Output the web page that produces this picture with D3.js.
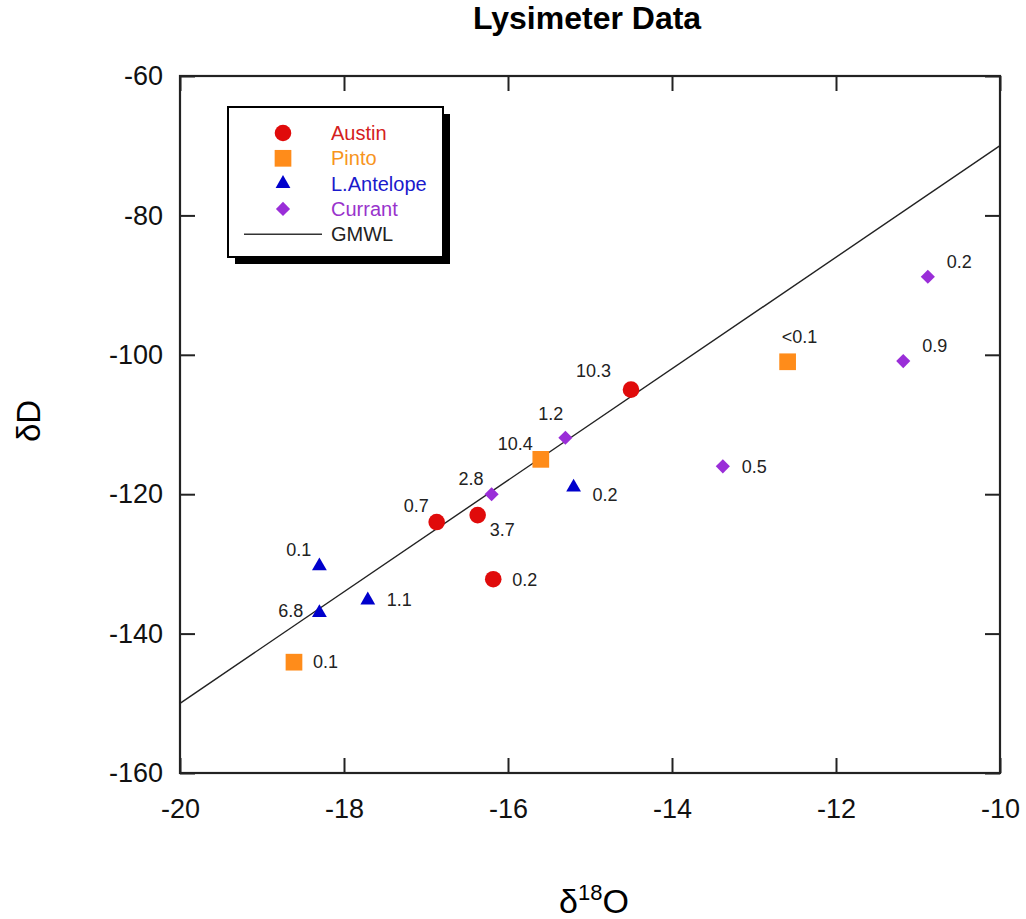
<!DOCTYPE html>
<html>
<head>
<meta charset="utf-8">
<script src="https://cdn.jsdelivr.net/npm/d3@7"></script>
<style>
  body { margin: 0; background: #fff; }
  svg { font-family: "Liberation Sans", Arial, sans-serif; }
</style>
</head>
<body>
<svg width="1026" height="919"></svg>
<script>
// Data
const austinX = [-14.5, -16.87, -16.37, -16.18];
const austinY = [-105, -124, -123, -132.2];
const austinLabels = ["10.3", "0.7", "3.7", "0.2"];
const austinPlace = ["ulf", "ul", "dr", "r"];

const pintoX = [-15.6, -12.59, -18.61];
const pintoY = [-115, -101, -144.1];
const pintoLabels = ["10.4", "<0.1", "0.1"];
const pintoPlace = ["ul", "u", "r"];

const antelopeX = [-18.3, -18.3, -17.71, -15.2];
const antelopeY = [-130.3, -137, -135.2, -119];
const antelopeLabels = ["0.1", "6.8", "1.1", "0.2"];
const antelopePlace = ["ul", "l", "r", "dr2"];

const currantX = [-16.2, -15.3, -13.38, -11.18, -10.88];
const currantY = [-120, -111.9, -116, -100.9, -88.8];
const currantLabels = ["2.8", "1.2", "0.5", "0.9", "0.2"];
const currantPlace = ["ul", "uu", "r", "ur", "ur"];

const xTicks = [-20, -18, -16, -14, -12, -10];
const yTicks = [-60, -80, -100, -120, -140, -160];

// GMWL: dD = 8 * d18O + 10
const gmwlX = [-20, -10];

const svg = d3.select("svg"),
  margin = { top: 76, left: 180 },
  width = 820,
  height = 697;

const g = svg.append("g")
  .attr("transform", `translate(${margin.left},${margin.top})`);

const x = d3.scaleLinear().domain([-20, -10]).range([0, width]);
const y = d3.scaleLinear().domain([-160, -60]).range([height, 0]);

// label placement offsets
const place = {
  r:   { a: "start", dx: 19, dy: 0 },
  ur:  { a: "start", dx: 19, dy: -15 },
  dr:  { a: "start", dx: 12, dy: 15 },
  dr2: { a: "start", dx: 19, dy: 7 },
  ul:  { a: "end", dx: -8, dy: -16 },
  ulf: { a: "end", dx: -20, dy: -19 },
  uu:  { a: "end", dx: -2, dy: -24 },
  u:   { a: "middle", dx: 12, dy: -25 },
  l:   { a: "end", dx: -16, dy: -2 }
};

const series = [
  { name: "Austin", xs: austinX, ys: austinY, labels: austinLabels, pl: austinPlace,
    color: "#e00b0b", text: "#d42020", shape: d3.symbolCircle, size: 216, rot: 0 },
  { name: "Pinto", xs: pintoX, ys: pintoY, labels: pintoLabels, pl: pintoPlace,
    color: "#ff8c1a", text: "#f7941d", shape: d3.symbolSquare, size: 279, rot: 0 },
  { name: "L.Antelope", xs: antelopeX, ys: antelopeY, labels: antelopeLabels, pl: antelopePlace,
    color: "#0000cc", text: "#1a1acc", shape: d3.symbolTriangle, size: 95, rot: 0 },
  { name: "Currant", xs: currantX, ys: currantY, labels: currantLabels, pl: currantPlace,
    color: "#9a2ed8", text: "#9933cc", shape: d3.symbolSquare, size: 100, rot: 45 }
];

// plain hyphen for negative tick labels, as in the original
const fmt = d => String(d);

// Title
svg.append("text")
  .attr("x", 587)
  .attr("y", 29)
  .attr("text-anchor", "middle")
  .style("font-size", "32px")
  .style("font-weight", "bold")
  .text("Lysimeter Data");

// Axes with inward ticks
g.append("g")
  .attr("transform", `translate(0,${height})`)
  .call(d3.axisBottom(x).tickValues(xTicks).tickFormat(fmt).tickSizeInner(-15).tickSizeOuter(0).tickPadding(26))
  .call(a => a.select(".domain").remove())
  .call(a => a.selectAll("text").style("font-size", "27px").attr("fill", "#111"));

g.append("g")
  .call(d3.axisLeft(y).tickValues(yTicks).tickFormat(fmt).tickSizeInner(-15).tickSizeOuter(0).tickPadding(17))
  .call(a => a.select(".domain").remove())
  .call(a => a.selectAll("text").style("font-size", "27px").attr("fill", "#111"));

g.append("g")
  .call(d3.axisTop(x).tickValues(xTicks).tickSizeInner(-15).tickSizeOuter(0).tickFormat(""))
  .call(a => a.select(".domain").remove());

g.append("g")
  .attr("transform", `translate(${width},0)`)
  .call(d3.axisRight(y).tickValues(yTicks).tickSizeInner(-15).tickSizeOuter(0).tickFormat(""))
  .call(a => a.select(".domain").remove());

g.selectAll(".tick line").attr("stroke", "#222").attr("stroke-width", 2);

// Frame
g.append("rect")
  .attr("width", width)
  .attr("height", height)
  .attr("fill", "none")
  .attr("stroke", "#222")
  .attr("stroke-width", 2.2);

// GMWL line
g.append("line")
  .attr("x1", x(gmwlX[0])).attr("y1", y(8 * gmwlX[0] + 10))
  .attr("x2", x(gmwlX[1])).attr("y2", y(8 * gmwlX[1] + 10))
  .attr("stroke", "#222")
  .attr("stroke-width", 1.4);

// Points and labels
series.forEach(s => {
  const pts = s.xs.map((v, i) => ({ x: v, y: s.ys[i], label: s.labels[i], pl: place[s.pl[i]] }));
  const sym = d3.symbol().type(s.shape).size(s.size);

  g.append("g").selectAll("path")
    .data(pts)
    .join("path")
    .attr("d", sym)
    .attr("transform", d => `translate(${x(d.x)},${y(d.y)}) rotate(${s.rot})`)
    .attr("fill", s.color);

  g.append("g").selectAll("text")
    .data(pts)
    .join("text")
    .attr("x", d => x(d.x) + d.pl.dx)
    .attr("y", d => y(d.y) + d.pl.dy)
    .attr("dy", "0.35em")
    .attr("text-anchor", d => d.pl.a)
    .style("font-size", "18px")
    .attr("fill", "#222")
    .text(d => d.label);
});

// Axis titles
svg.append("text")
  .attr("transform", "translate(40,421) rotate(-90)")
  .attr("text-anchor", "middle")
  .style("font-size", "33px")
  .text("δD");

const xt = svg.append("text")
  .attr("x", 594)
  .attr("y", 913)
  .attr("text-anchor", "middle")
  .style("font-size", "34px");
xt.append("tspan").text("δ");
xt.append("tspan").attr("dy", -13).style("font-size", "22px").text("18");
xt.append("tspan").attr("dy", 13).text("O");

// Legend with drop shadow
const legend = svg.append("g").attr("class", "legend");
legend.append("rect")
  .attr("x", 235).attr("y", 114)
  .attr("width", 215).attr("height", 150)
  .attr("fill", "#000");
legend.append("rect")
  .attr("x", 228).attr("y", 107)
  .attr("width", 215).attr("height", 150)
  .attr("fill", "#fff")
  .attr("stroke", "#000")
  .attr("stroke-width", 2);

const legendItems = legend.selectAll("g.legend-item")
  .data(series)
  .join("g")
  .attr("class", "legend-item")
  .attr("transform", (d, i) => `translate(283, ${133 + i * 25.3})`);

legendItems.append("path")
  .attr("d", d => d3.symbol().type(d.shape).size(d.size)())
  .attr("transform", d => `rotate(${d.rot})`)
  .attr("fill", d => d.color);

legendItems.append("text")
  .attr("x", 48)
  .attr("dy", "0.35em")
  .style("font-size", "20px")
  .attr("fill", d => d.text)
  .text(d => d.name);

const gl = legend.append("g").attr("transform", `translate(283, ${133 + 4 * 25.3})`);
gl.append("line")
  .attr("x1", -39).attr("x2", 39)
  .attr("stroke", "#333").attr("stroke-width", 1.4);
gl.append("text")
  .attr("x", 48)
  .attr("dy", "0.35em")
  .style("font-size", "20px")
  .attr("fill", "#222")
  .text("GMWL");
</script>
</body>
</html>
